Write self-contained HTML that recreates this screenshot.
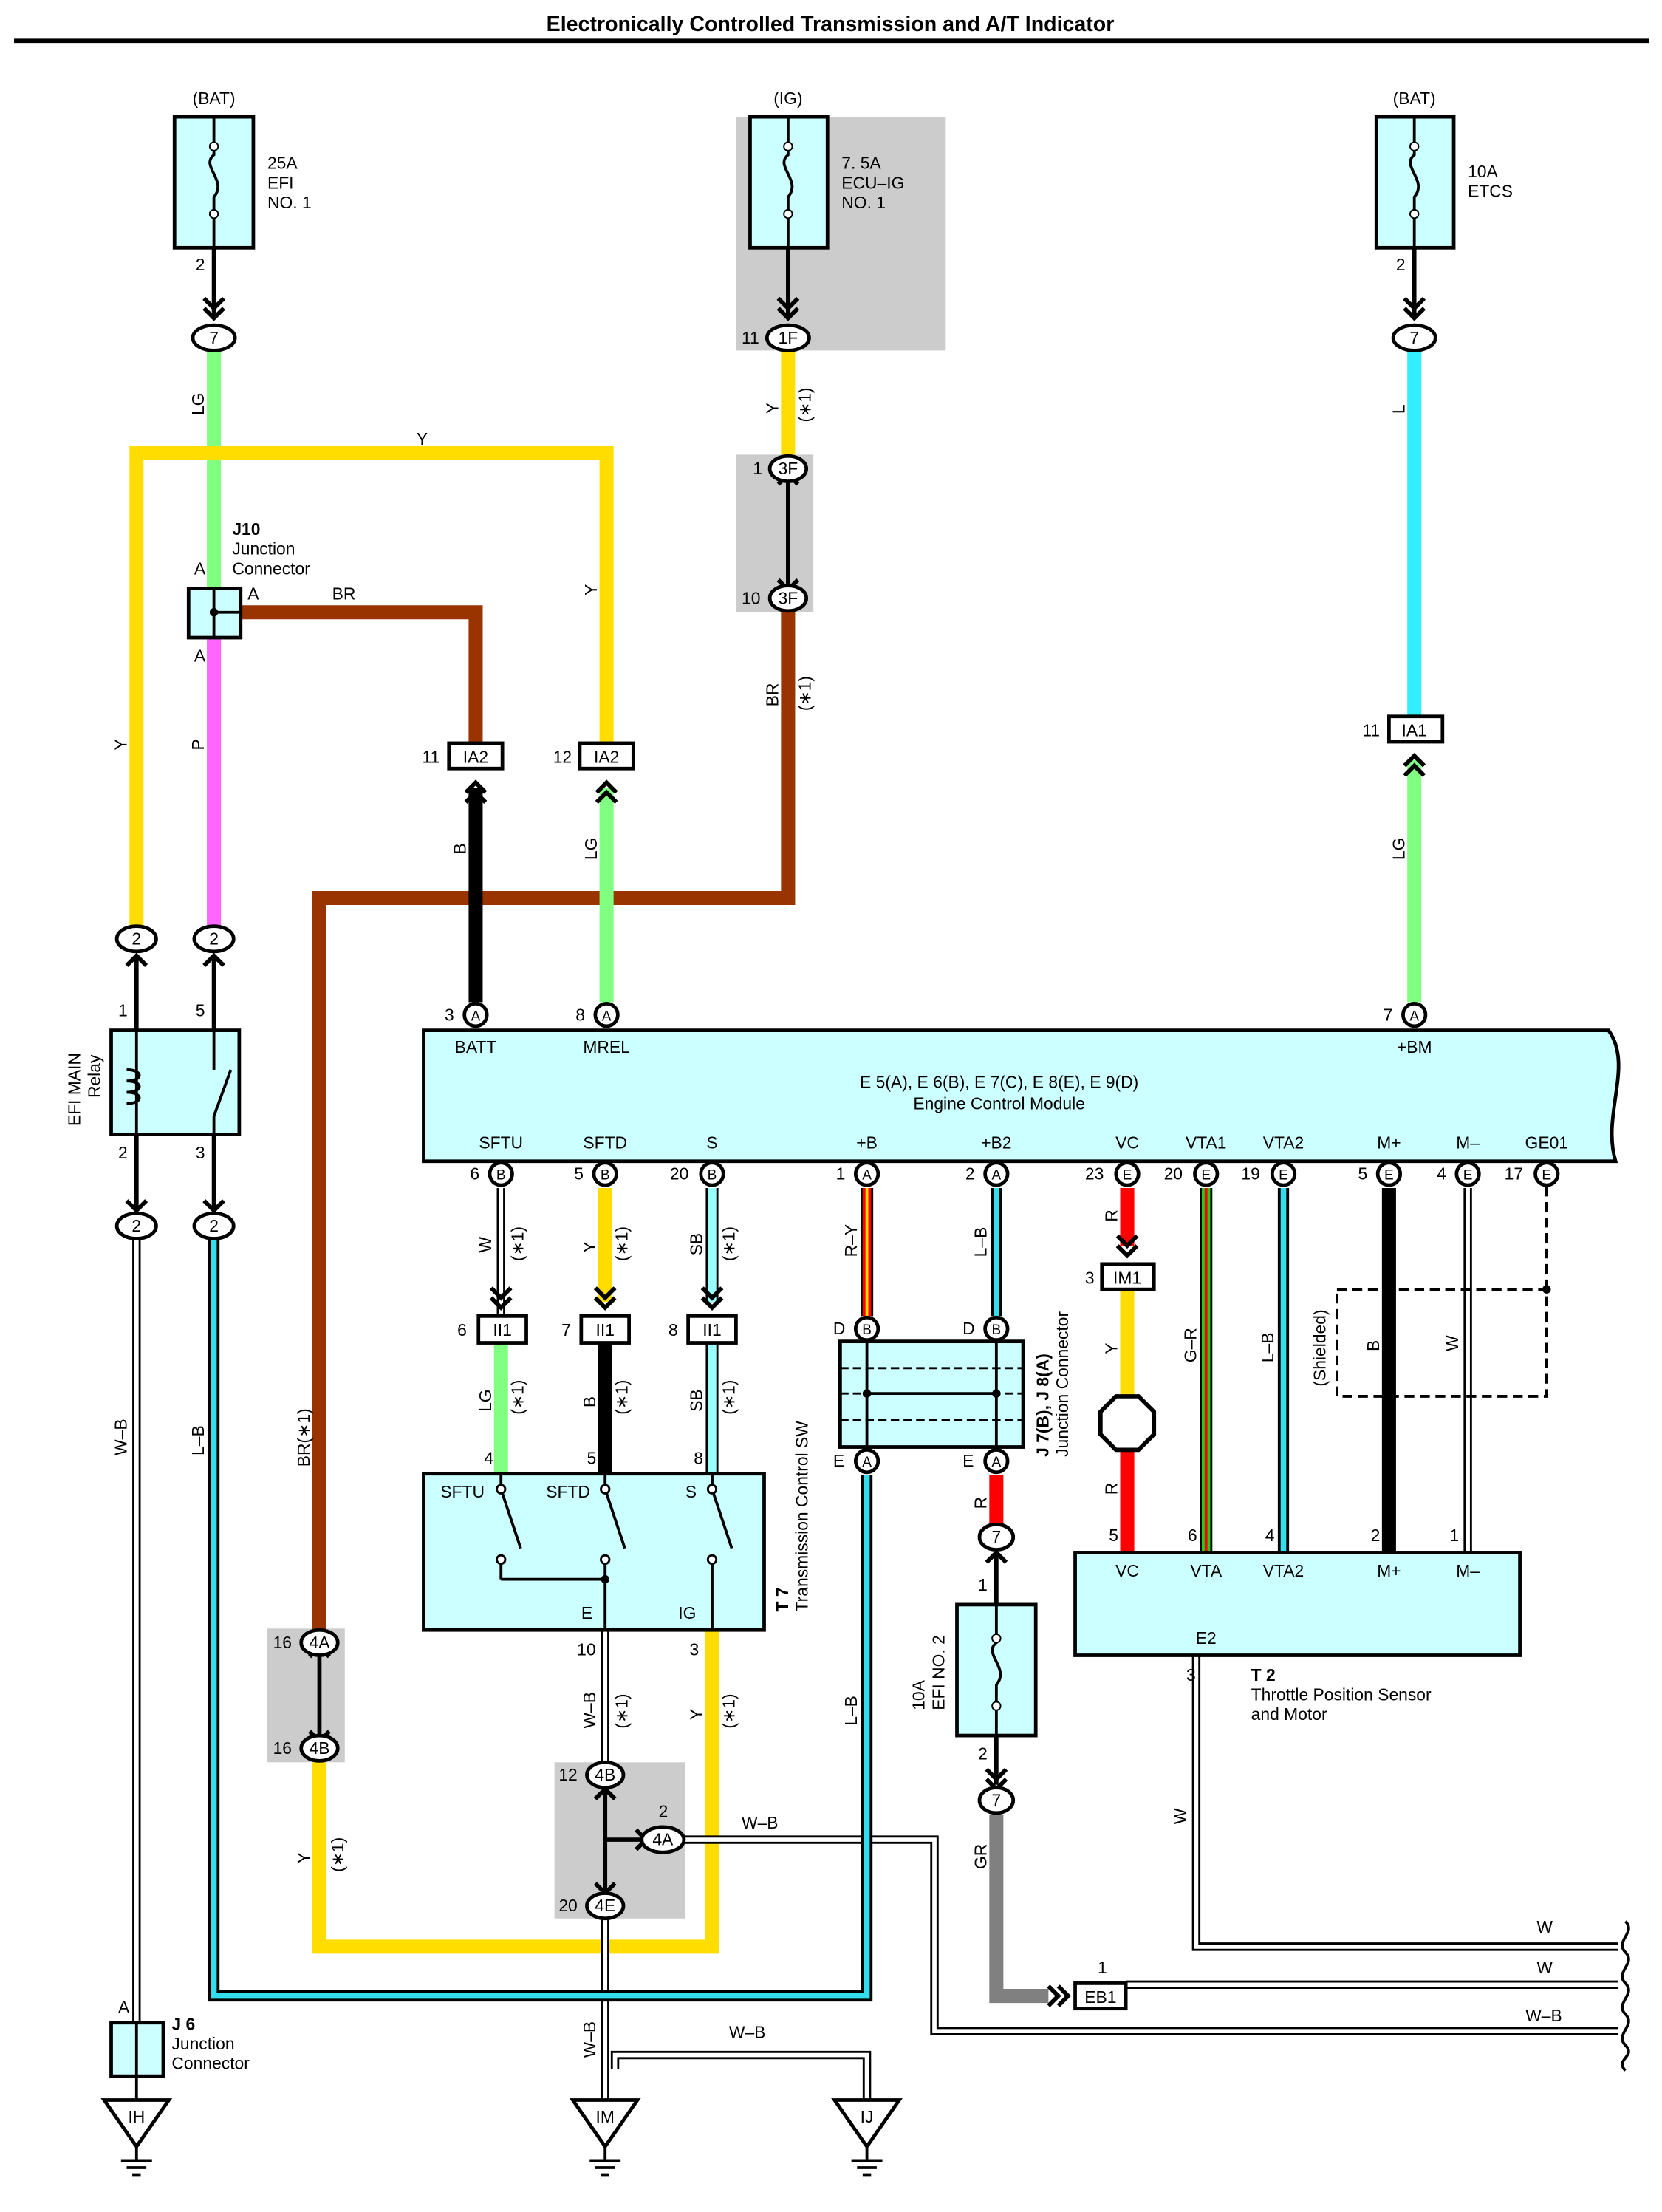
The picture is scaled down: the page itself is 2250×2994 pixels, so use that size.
<!DOCTYPE html>
<html><head><meta charset="utf-8"><style>
html,body{margin:0;padding:0;background:#fff}
svg{display:block}
text{font-family:"Liberation Sans",sans-serif;font-size:12px;fill:#000}
.b{font-weight:bold}
.box{fill:#ccffff;stroke:#000;stroke-width:2.5}
.ov{fill:#fff;stroke:#000;stroke-width:2.5}
.w{fill:none;stroke-linejoin:miter;stroke-linecap:butt}
.ol{fill:none;stroke:#000;stroke-width:6}
.wi{fill:none;stroke:#fff;stroke-width:3}
.lb{fill:none;stroke:#33ddee;stroke-width:4}
.c{text-anchor:middle}
</style></head><body>
<svg width="2250" height="2994" viewBox="0 0 1181 1571.5" preserveAspectRatio="none" xmlns="http://www.w3.org/2000/svg">
<text x="590" y="22" class="b c" style="font-size:15px">Electronically Controlled Transmission and A/T Indicator</text>
<line x1="10" y1="29" x2="1172" y2="29" stroke="#000" stroke-width="3"/>
<rect x="523" y="83" width="149" height="166" fill="#cccccc"/>
<rect x="523" y="323" width="55" height="112" fill="#cccccc"/>
<rect x="190" y="1157" width="55" height="95" fill="#cccccc"/>
<rect x="394" y="1252" width="93" height="111" fill="#cccccc"/>

<g class="w" stroke-width="10">
<polyline stroke="#80ff80" points="152,250 152,418"/>
<polyline stroke="#ff66ff" points="152,453 152,658"/>
<polyline stroke="#ffdd00" points="97,658 97,322 431,322 431,527"/>
<polyline stroke="#993300" points="171,435 338,435 338,527"/>
<polyline stroke="#ffdd00" points="560,250 560,323"/>
<polyline stroke="#993300" points="560,435 560,638 227,638 227,1158"/>
<polyline stroke="#ffdd00" points="227,1252 227,1383 506,1383 506,1158"/>
<polyline stroke="#000" points="338,560 338,712"/>
<polyline stroke="#80ff80" points="431,560 431,712"/>
<polyline stroke="#33eeff" points="1005,250 1005,508"/>
<polyline stroke="#80ff80" points="1005,540 1005,712"/>
<polyline stroke="#ffdd00" points="430,844 430,925"/>
<polyline stroke="#80ff80" points="356,954 356,1047"/>
<polyline stroke="#000" points="430,954 430,1047"/>
<polyline stroke="#ff0000" points="801,844 801,885"/>
<polyline stroke="#ffdd00" points="801,916 801,992"/>
<polyline stroke="#ff0000" points="801,1028 801,1103"/>
<polyline stroke="#000" points="987,844 987,1103"/>
<polyline stroke="#ff0000" points="708,1048 708,1083"/>
<polyline stroke="#808080" points="708,1289 708,1418 745,1418"/>
</g>
<g class="w">
<polyline stroke="#000" stroke-width="9" points="506,844 506,925"/><polyline stroke="#99ffff" stroke-width="6" points="506,844 506,925"/>
<polyline stroke="#000" stroke-width="9" points="506,954 506,1047"/><polyline stroke="#99ffff" stroke-width="6" points="506,954 506,1047"/>
<polyline stroke="#000" stroke-width="9" points="616,844 616,935"/><polyline stroke="#ff0000" stroke-width="6" points="616,844 616,935"/><polyline stroke="#ffdd00" stroke-width="2" points="616,844 616,935"/>
<polyline stroke="#000" stroke-width="9" points="857,844 857,1103"/><polyline stroke="#22cc22" stroke-width="6" points="857,844 857,1103"/><polyline stroke="#ff0000" stroke-width="2" points="857,844 857,1103"/>
</g>
<g>
<polyline class="ol" points="97,881 97,1437"/><polyline class="wi" points="97,881 97,1437"/>
<polyline class="ol" points="356,844 356,935"/><polyline class="wi" points="356,844 356,935"/>
<polyline class="ol" points="430,1158 430,1252"/><polyline class="wi" points="430,1158 430,1252"/>
<polyline class="ol" points="430,1363 430,1492"/><polyline class="wi" points="430,1363 430,1492"/>
<polyline class="ol" points="437,1470 437,1460 616,1460 616,1492"/><polyline class="wi" points="437,1470 437,1460 616,1460 616,1492"/>
<polyline class="ol" points="487,1307 664,1307 664,1443 1150,1443"/><polyline class="wi" points="487,1307 664,1307 664,1443 1150,1443"/>
<polyline class="ol" points="800,1410 1150,1410"/><polyline class="wi" points="800,1410 1150,1410"/>
<polyline class="ol" points="850,1176 850,1383 1150,1383"/><polyline class="wi" points="850,1176 850,1383 1150,1383"/>
<polyline class="ol" points="1043,844 1043,1103"/><polyline class="wi" points="1043,844 1043,1103"/>
<polyline stroke="#000" stroke-width="8" fill="none" points="152,881 152,1418 616,1418 616,1048"/><polyline class="lb" points="152,881 152,1418 616,1418 616,1048"/>
<polyline stroke="#000" stroke-width="8" fill="none" points="708,844 708,935"/><polyline class="lb" points="708,844 708,935"/>
<polyline stroke="#000" stroke-width="8" fill="none" points="912,844 912,1103"/><polyline class="lb" points="912,844 912,1103"/>
</g>
<g fill="none" stroke="#000" stroke-width="3">
<path d="M145,212 l7,7 l7,-7 M145,219 l7,7 l7,-7"/>
<path d="M553,212 l7,7 l7,-7 M553,219 l7,7 l7,-7"/>
<path d="M998,212 l7,7 l7,-7 M998,219 l7,7 l7,-7"/>
<path d="M331,563 l7,-7 l7,7 M331,570 l7,-7 l7,7"/>
<path d="M424,563 l7,-7 l7,7 M424,570 l7,-7 l7,7"/>
<path d="M998,544 l7,-7 l7,7 M998,551 l7,-7 l7,7"/>
<path d="M349,915 l7,7 l7,-7 M349,922 l7,7 l7,-7"/>
<path d="M423,915 l7,7 l7,-7 M423,922 l7,7 l7,-7"/>
<path d="M499,915 l7,7 l7,-7 M499,922 l7,7 l7,-7"/>
<path d="M794,878 l7,7 l7,-7 M794,885 l7,7 l7,-7"/>
<path d="M90,686 l7,-7 l7,7 M145,686 l7,-7 l7,7"/>
<line x1="97" y1="679" x2="97" y2="732"/><line x1="152" y1="679" x2="152" y2="732"/>
<path d="M90,853 l7,7 l7,-7 M145,853 l7,7 l7,-7"/>
<line x1="97" y1="806" x2="97" y2="860"/><line x1="152" y1="806" x2="152" y2="860"/>
<path d="M553,344 l7,-7 l7,7 M553,412 l7,7 l7,-7"/><line x1="560" y1="340" x2="560" y2="418"/>
<path d="M220,1177 l7,-7 l7,7 M220,1230 l7,7 l7,-7"/><line x1="227" y1="1172" x2="227" y2="1235"/>
<path d="M423,1278 l7,-7 l7,7 M423,1338 l7,7 l7,-7"/><line x1="430" y1="1272" x2="430" y2="1344"/><line x1="430" y1="1307" x2="458" y2="1307"/><path d="M452,1300 l7,7 l-7,7"/>
<path d="M701,1110 l7,-7 l7,7"/><line x1="708" y1="1103" x2="708" y2="1140"/>
<path d="M701,1257 l7,7 l7,-7 M701,1264 l7,7 l7,-7"/><line x1="708" y1="1233" x2="708" y2="1268"/>
<path d="M745,1411 l7,7 l-7,7 M752,1411 l7,7 l-7,7"/>
<line x1="152" y1="176" x2="152" y2="225"/><line x1="560" y1="176" x2="560" y2="225"/><line x1="1005" y1="176" x2="1005" y2="225"/>
</g>
<g>
<rect class="box" x="124" y="83" width="56" height="93"/>
<rect class="box" x="533" y="83" width="55" height="93"/>
<rect class="box" x="978" y="83" width="55" height="93"/>
<rect class="box" x="680" y="1140" width="56" height="93"/>
<g fill="none" stroke="#000" stroke-width="2">
<path d="M152,83 v27 c-10,8 10,18 0,30 v36"/><path d="M560,83 v27 c-10,8 10,18 0,30 v36"/><path d="M1005,83 v27 c-10,8 10,18 0,30 v36"/><path d="M708,1140 v27 c-10,8 10,18 0,30 v36"/>
</g>
<g fill="#fff" stroke="#000"><circle cx="152" cy="104" r="3"/><circle cx="152" cy="152" r="3"/><circle cx="560" cy="104" r="3"/><circle cx="560" cy="152" r="3"/><circle cx="1005" cy="104" r="3"/><circle cx="1005" cy="152" r="3"/><circle cx="708" cy="1164" r="3"/><circle cx="708" cy="1212" r="3"/></g>
<text x="152" y="74" class="c">(BAT)</text><text x="560" y="74" class="c">(IG)</text><text x="1005" y="74" class="c">(BAT)</text>
<text x="190" y="120">25A</text><text x="190" y="134">EFI</text><text x="190" y="148">NO. 1</text>
<text x="598" y="120">7. 5A</text><text x="598" y="134">ECU–IG</text><text x="598" y="148">NO. 1</text>
<text x="1043" y="126">10A</text><text x="1043" y="140">ETCS</text>
<text x="139" y="192">2</text><text x="992" y="192">2</text>
<text transform="translate(657,1215) rotate(-90)">10A</text><text transform="translate(671,1215) rotate(-90)">EFI NO. 2</text>
<text x="695" y="1130">1</text><text x="695" y="1250">2</text>
</g>
<g>
<ellipse class="ov" cx="152" cy="240" rx="15" ry="9"/><text x="152" y="244" class="c">7</text>
<ellipse class="ov" cx="560" cy="240" rx="15" ry="9"/><text x="560" y="244" class="c">1F</text><text x="527" y="244">11</text>
<ellipse class="ov" cx="1005" cy="240" rx="15" ry="9"/><text x="1005" y="244" class="c">7</text>
<ellipse class="ov" cx="560" cy="333" rx="13" ry="9"/><text x="560" y="337" class="c">3F</text><text x="535" y="337">1</text>
<ellipse class="ov" cx="560" cy="425" rx="13" ry="9"/><text x="560" y="429" class="c">3F</text><text x="527" y="429">10</text>
<ellipse class="ov" cx="97" cy="667" rx="14" ry="9"/><text x="97" y="671" class="c">2</text>
<ellipse class="ov" cx="152" cy="667" rx="14" ry="9"/><text x="152" y="671" class="c">2</text>
<ellipse class="ov" cx="97" cy="871" rx="14" ry="9"/><text x="97" y="875" class="c">2</text>
<ellipse class="ov" cx="152" cy="871" rx="14" ry="9"/><text x="152" y="875" class="c">2</text>
<ellipse class="ov" cx="227" cy="1167" rx="13" ry="9"/><text x="227" y="1171" class="c">4A</text><text x="194" y="1171">16</text>
<ellipse class="ov" cx="227" cy="1242" rx="13" ry="9"/><text x="227" y="1246" class="c">4B</text><text x="194" y="1246">16</text>
<ellipse class="ov" cx="430" cy="1261" rx="13" ry="9"/><text x="430" y="1265" class="c">4B</text><text x="397" y="1265">12</text>
<ellipse class="ov" cx="430" cy="1354" rx="13" ry="9"/><text x="430" y="1358" class="c">4E</text><text x="397" y="1358">20</text>
<ellipse class="ov" cx="471" cy="1307" rx="15" ry="9"/><text x="471" y="1311" class="c">4A</text><text x="468" y="1291">2</text>
<ellipse class="ov" cx="708" cy="1092" rx="12" ry="9"/><text x="708" y="1096" class="c">7</text>
<ellipse class="ov" cx="708" cy="1279" rx="12" ry="9"/><text x="708" y="1283" class="c">7</text>
<rect x="319" y="528" width="38" height="18" fill="#fff" stroke="#000" stroke-width="2.5"/><text x="338" y="542" class="c">IA2</text><text x="300" y="542">11</text>
<rect x="412" y="528" width="38" height="18" fill="#fff" stroke="#000" stroke-width="2.5"/><text x="431" y="542" class="c">IA2</text><text x="393" y="542">12</text>
<rect x="987" y="509" width="38" height="18" fill="#fff" stroke="#000" stroke-width="2.5"/><text x="1005" y="523" class="c">IA1</text><text x="968" y="523">11</text>
<rect x="340" y="935" width="34" height="19" fill="#fff" stroke="#000" stroke-width="2.5"/><text x="357" y="949" class="c">II1</text><text x="325" y="949">6</text>
<rect x="413" y="935" width="34" height="19" fill="#fff" stroke="#000" stroke-width="2.5"/><text x="430" y="949" class="c">II1</text><text x="399" y="949">7</text>
<rect x="489" y="935" width="34" height="19" fill="#fff" stroke="#000" stroke-width="2.5"/><text x="506" y="949" class="c">II1</text><text x="475" y="949">8</text>
<rect x="783" y="898" width="37" height="18" fill="#fff" stroke="#000" stroke-width="2.5"/><text x="801" y="912" class="c">IM1</text><text x="771" y="912">3</text>
<rect x="764" y="1409" width="36" height="18" fill="#fff" stroke="#000" stroke-width="2.5"/><text x="782" y="1423" class="c">EB1</text><text x="780" y="1402">1</text>
</g>
<rect class="box" x="134" y="418" width="37" height="35"/>
<line x1="152" y1="418" x2="152" y2="453" stroke="#000" stroke-width="2"/><line x1="152" y1="435" x2="171" y2="435" stroke="#000" stroke-width="2"/><circle cx="152" cy="435" r="3"/>
<text x="138" y="408">A</text><text x="176" y="426">A</text><text x="138" y="470">A</text><text x="236" y="426">BR</text>
<text x="165" y="380" class="b">J10</text><text x="165" y="394">Junction</text><text x="165" y="408">Connector</text>
<rect class="box" x="79" y="732" width="91" height="74"/>
<line x1="97" y1="732" x2="97" y2="806" stroke="#000" stroke-width="2"/><line x1="152" y1="732" x2="152" y2="760" stroke="#000" stroke-width="2"/><line x1="152" y1="793" x2="152" y2="806" stroke="#000" stroke-width="2"/><line x1="152" y1="793" x2="164" y2="760" stroke="#000" stroke-width="2"/>
<path d="M90,760 c12,0 12,8 0,8 c12,0 12,8 0,8 c12,0 12,8 0,8" fill="none" stroke="#000" stroke-width="2"/>
<text x="84" y="722">1</text><text x="139" y="722">5</text><text x="84" y="823">2</text><text x="139" y="823">3</text>
<text transform="translate(57,800) rotate(-90)">EFI MAIN</text><text transform="translate(71,780) rotate(-90)">Relay</text>
<path class="box" d="M301,732 H1143 c18,25 -5,60 5,93 H301 Z"/>
<text x="710" y="773" class="c">E 5(A), E 6(B), E 7(C), E 8(E), E 9(D)</text>
<text x="710" y="788" class="c">Engine Control Module</text>
<text x="338" y="748" class="c">BATT</text><text x="431" y="748" class="c">MREL</text><text x="1005" y="748" class="c">+BM</text>
<g>
<text x="356" y="816" class="c">SFTU</text><text x="430" y="816" class="c">SFTD</text><text x="506" y="816" class="c">S</text><text x="616" y="816" class="c">+B</text><text x="708" y="816" class="c">+B2</text><text x="801" y="816" class="c">VC</text><text x="857" y="816" class="c">VTA1</text><text x="912" y="816" class="c">VTA2</text><text x="987" y="816" class="c">M+</text><text x="1043" y="816" class="c">M–</text><text x="1099" y="816" class="c">GE01</text>
</g>
<g>
<circle class="ov" cx="338" cy="721" r="8"/><text x="338" y="725" class="c" style="font-size:10px">A</text><text x="316" y="725">3</text>
<circle class="ov" cx="431" cy="721" r="8"/><text x="431" y="725" class="c" style="font-size:10px">A</text><text x="409" y="725">8</text>
<circle class="ov" cx="1005" cy="721" r="8"/><text x="1005" y="725" class="c" style="font-size:10px">A</text><text x="983" y="725">7</text>
<circle class="ov" cx="356" cy="834" r="8"/><text x="356" y="838" class="c" style="font-size:10px">B</text><text x="334" y="838">6</text>
<circle class="ov" cx="430" cy="834" r="8"/><text x="430" y="838" class="c" style="font-size:10px">B</text><text x="408" y="838">5</text>
<circle class="ov" cx="506" cy="834" r="8"/><text x="506" y="838" class="c" style="font-size:10px">B</text><text x="476" y="838">20</text>
<circle class="ov" cx="616" cy="834" r="8"/><text x="616" y="838" class="c" style="font-size:10px">A</text><text x="594" y="838">1</text>
<circle class="ov" cx="708" cy="834" r="8"/><text x="708" y="838" class="c" style="font-size:10px">A</text><text x="686" y="838">2</text>
<circle class="ov" cx="801" cy="834" r="8"/><text x="801" y="838" class="c" style="font-size:10px">E</text><text x="771" y="838">23</text>
<circle class="ov" cx="857" cy="834" r="8"/><text x="857" y="838" class="c" style="font-size:10px">E</text><text x="827" y="838">20</text>
<circle class="ov" cx="912" cy="834" r="8"/><text x="912" y="838" class="c" style="font-size:10px">E</text><text x="882" y="838">19</text>
<circle class="ov" cx="987" cy="834" r="8"/><text x="987" y="838" class="c" style="font-size:10px">E</text><text x="965" y="838">5</text>
<circle class="ov" cx="1043" cy="834" r="8"/><text x="1043" y="838" class="c" style="font-size:10px">E</text><text x="1021" y="838">4</text>
<circle class="ov" cx="1099" cy="834" r="8"/><text x="1099" y="838" class="c" style="font-size:10px">E</text><text x="1069" y="838">17</text>
<circle class="ov" cx="616" cy="944" r="8"/><text x="616" y="948" class="c" style="font-size:10px">B</text><text x="592" y="948">D</text>
<circle class="ov" cx="708" cy="944" r="8"/><text x="708" y="948" class="c" style="font-size:10px">B</text><text x="684" y="948">D</text>
<circle class="ov" cx="616" cy="1038" r="8"/><text x="616" y="1042" class="c" style="font-size:10px">A</text><text x="592" y="1042">E</text>
<circle class="ov" cx="708" cy="1038" r="8"/><text x="708" y="1042" class="c" style="font-size:10px">A</text><text x="684" y="1042">E</text>
</g>
<rect class="box" x="597" y="953" width="130" height="75"/>
<g stroke="#000" stroke-width="1.5" stroke-dasharray="6,3"><line x1="597" y1="972" x2="727" y2="972"/><line x1="597" y1="990" x2="727" y2="990"/><line x1="597" y1="1009" x2="727" y2="1009"/></g>
<line x1="616" y1="953" x2="616" y2="1028" stroke="#000" stroke-width="2"/><line x1="708" y1="953" x2="708" y2="1028" stroke="#000" stroke-width="2"/><line x1="616" y1="990" x2="708" y2="990" stroke="#000" stroke-width="2"/>
<circle cx="616" cy="990" r="3"/><circle cx="708" cy="990" r="3"/>
<text transform="translate(745,1035) rotate(-90)" class="b">J 7(B), J 8(A)</text><text transform="translate(759,1035) rotate(-90)">Junction Connector</text>
<polygon points="793,992 809,992 820,1003 820,1019 809,1030 793,1030 782,1019 782,1003" fill="#fff" stroke="#000" stroke-width="3"/>
<rect class="box" x="301" y="1047" width="242" height="111"/>
<text x="313" y="1064">SFTU</text><text x="388" y="1064">SFTD</text><text x="487" y="1064">S</text><text x="413" y="1150">E</text><text x="482" y="1150">IG</text>
<g stroke="#000" stroke-width="2" fill="none">
<line x1="356" y1="1047" x2="356" y2="1058"/><line x1="356" y1="1058" x2="370" y2="1100"/><line x1="356" y1="1108" x2="356" y2="1122"/>
<line x1="430" y1="1047" x2="430" y2="1058"/><line x1="430" y1="1058" x2="444" y2="1100"/><line x1="430" y1="1108" x2="430" y2="1158"/>
<line x1="506" y1="1047" x2="506" y2="1058"/><line x1="506" y1="1058" x2="520" y2="1100"/><line x1="506" y1="1108" x2="506" y2="1158"/>
<line x1="356" y1="1122" x2="430" y2="1122"/>
</g>
<g fill="#fff" stroke="#000" stroke-width="1.5"><circle cx="356" cy="1058" r="3"/><circle cx="356" cy="1108" r="3"/><circle cx="430" cy="1058" r="3"/><circle cx="430" cy="1108" r="3"/><circle cx="506" cy="1058" r="3"/><circle cx="506" cy="1108" r="3"/></g>
<circle cx="430" cy="1122" r="3"/>
<text x="344" y="1040">4</text><text x="417" y="1040">5</text><text x="493" y="1040">8</text><text x="410" y="1176">10</text><text x="490" y="1176">3</text>
<text transform="translate(560,1145) rotate(-90)" class="b">T 7</text><text transform="translate(574,1145) rotate(-90)">Transmission Control SW</text>
<rect class="box" x="764" y="1103" width="316" height="73"/>
<text x="801" y="1120" class="c">VC</text><text x="857" y="1120" class="c">VTA</text><text x="912" y="1120" class="c">VTA2</text><text x="987" y="1120" class="c">M+</text><text x="1043" y="1120" class="c">M–</text><text x="857" y="1168" class="c">E2</text>
<text x="788" y="1095">5</text><text x="844" y="1095">6</text><text x="899" y="1095">4</text><text x="974" y="1095">2</text><text x="1030" y="1095">1</text><text x="843" y="1194">3</text>
<text x="889" y="1194" class="b">T 2</text><text x="889" y="1208">Throttle Position Sensor</text><text x="889" y="1222">and Motor</text>
<rect x="950" y="916" width="149" height="76" fill="none" stroke="#000" stroke-width="2" stroke-dasharray="7,4"/>
<line x1="1099" y1="843" x2="1099" y2="916" stroke="#000" stroke-width="2" stroke-dasharray="7,4"/><circle cx="1099" cy="916" r="3"/>
<text transform="translate(942,985) rotate(-90)">(Shielded)</text>
<path d="M1155,1365 c8,8 -8,14 0,22 c8,8 -8,14 0,22 c8,8 -8,14 0,22 c8,8 -8,14 0,22 c8,8 -8,10 0,18" fill="none" stroke="#000" stroke-width="2"/>
<rect class="box" x="79" y="1437" width="37" height="38"/><line x1="97" y1="1437" x2="97" y2="1475" stroke="#000" stroke-width="2"/>
<text x="84" y="1430">A</text><text x="122" y="1442" class="b">J 6</text><text x="122" y="1456">Junction</text><text x="122" y="1470">Connector</text>
<line x1="97" y1="1475" x2="97" y2="1492" stroke="#000" stroke-width="2"/>
<g stroke="#000" stroke-width="2.5" fill="#fff">
<polygon points="74,1492 120,1492 97,1525"/><polygon points="407,1492 453,1492 430,1525"/><polygon points="593,1492 639,1492 616,1525"/>
</g>
<g stroke="#000" stroke-width="2"><path d="M97,1525v10M86,1535h22M90,1540h14M94,1545h6"/><path d="M430,1525v10M419,1535h22M423,1540h14M427,1545h6"/><path d="M616,1525v10M605,1535h22M609,1540h14M613,1545h6"/></g>
<text x="97" y="1508" class="c">IH</text><text x="430" y="1508" class="c">IM</text><text x="616" y="1508" class="c">IJ</text>
<g>
<text transform="translate(145,295) rotate(-90)">LG</text>
<text x="296" y="316">Y</text>
<text transform="translate(90,533) rotate(-90)">Y</text>
<text transform="translate(145,533) rotate(-90)">P</text>
<text transform="translate(424,423) rotate(-90)">Y</text>
<text transform="translate(553,294) rotate(-90)">Y</text><text transform="translate(576,300) rotate(-90)">(∗1)</text>
<text transform="translate(553,502) rotate(-90)">BR</text><text transform="translate(576,505) rotate(-90)">(∗1)</text>
<text transform="translate(331,607) rotate(-90)">B</text>
<text transform="translate(424,611) rotate(-90)">LG</text>
<text transform="translate(998,294) rotate(-90)">L</text>
<text transform="translate(998,611) rotate(-90)">LG</text>
<text transform="translate(220,1042) rotate(-90)">BR(∗1)</text>
<text transform="translate(90,1034) rotate(-90)">W–B</text>
<text transform="translate(145,1034) rotate(-90)">L–B</text>
<text transform="translate(349,890) rotate(-90)">W</text><text transform="translate(372,896) rotate(-90)">(∗1)</text>
<text transform="translate(423,890) rotate(-90)">Y</text><text transform="translate(446,896) rotate(-90)">(∗1)</text>
<text transform="translate(499,892) rotate(-90)">SB</text><text transform="translate(522,896) rotate(-90)">(∗1)</text>
<text transform="translate(349,1003) rotate(-90)">LG</text><text transform="translate(372,1005) rotate(-90)">(∗1)</text>
<text transform="translate(423,1000) rotate(-90)">B</text><text transform="translate(446,1005) rotate(-90)">(∗1)</text>
<text transform="translate(499,1003) rotate(-90)">SB</text><text transform="translate(522,1005) rotate(-90)">(∗1)</text>
<text transform="translate(609,893) rotate(-90)">R–Y</text>
<text transform="translate(701,893) rotate(-90)">L–B</text>
<text transform="translate(794,868) rotate(-90)">R</text>
<text transform="translate(794,962) rotate(-90)">Y</text>
<text transform="translate(794,1062) rotate(-90)">R</text>
<text transform="translate(850,968) rotate(-90)">G–R</text>
<text transform="translate(905,968) rotate(-90)">L–B</text>
<text transform="translate(980,960) rotate(-90)">B</text>
<text transform="translate(1036,960) rotate(-90)">W</text>
<text transform="translate(220,1324) rotate(-90)">Y</text><text transform="translate(244,1330) rotate(-90)">(∗1)</text>
<text transform="translate(423,1228) rotate(-90)">W–B</text><text transform="translate(446,1228) rotate(-90)">(∗1)</text>
<text transform="translate(499,1222) rotate(-90)">Y</text><text transform="translate(522,1228) rotate(-90)">(∗1)</text>
<text transform="translate(609,1226) rotate(-90)">L–B</text>
<text transform="translate(701,1072) rotate(-90)">R</text>
<text transform="translate(701,1328) rotate(-90)">GR</text>
<text transform="translate(843,1296) rotate(-90)">W</text>
<text transform="translate(423,1462) rotate(-90)">W–B</text>
<text x="527" y="1299">W–B</text><text x="518" y="1448">W–B</text>
<text x="1092" y="1373">W</text><text x="1092" y="1402">W</text><text x="1084" y="1436">W–B</text>
</g>
</svg>
</body></html>
